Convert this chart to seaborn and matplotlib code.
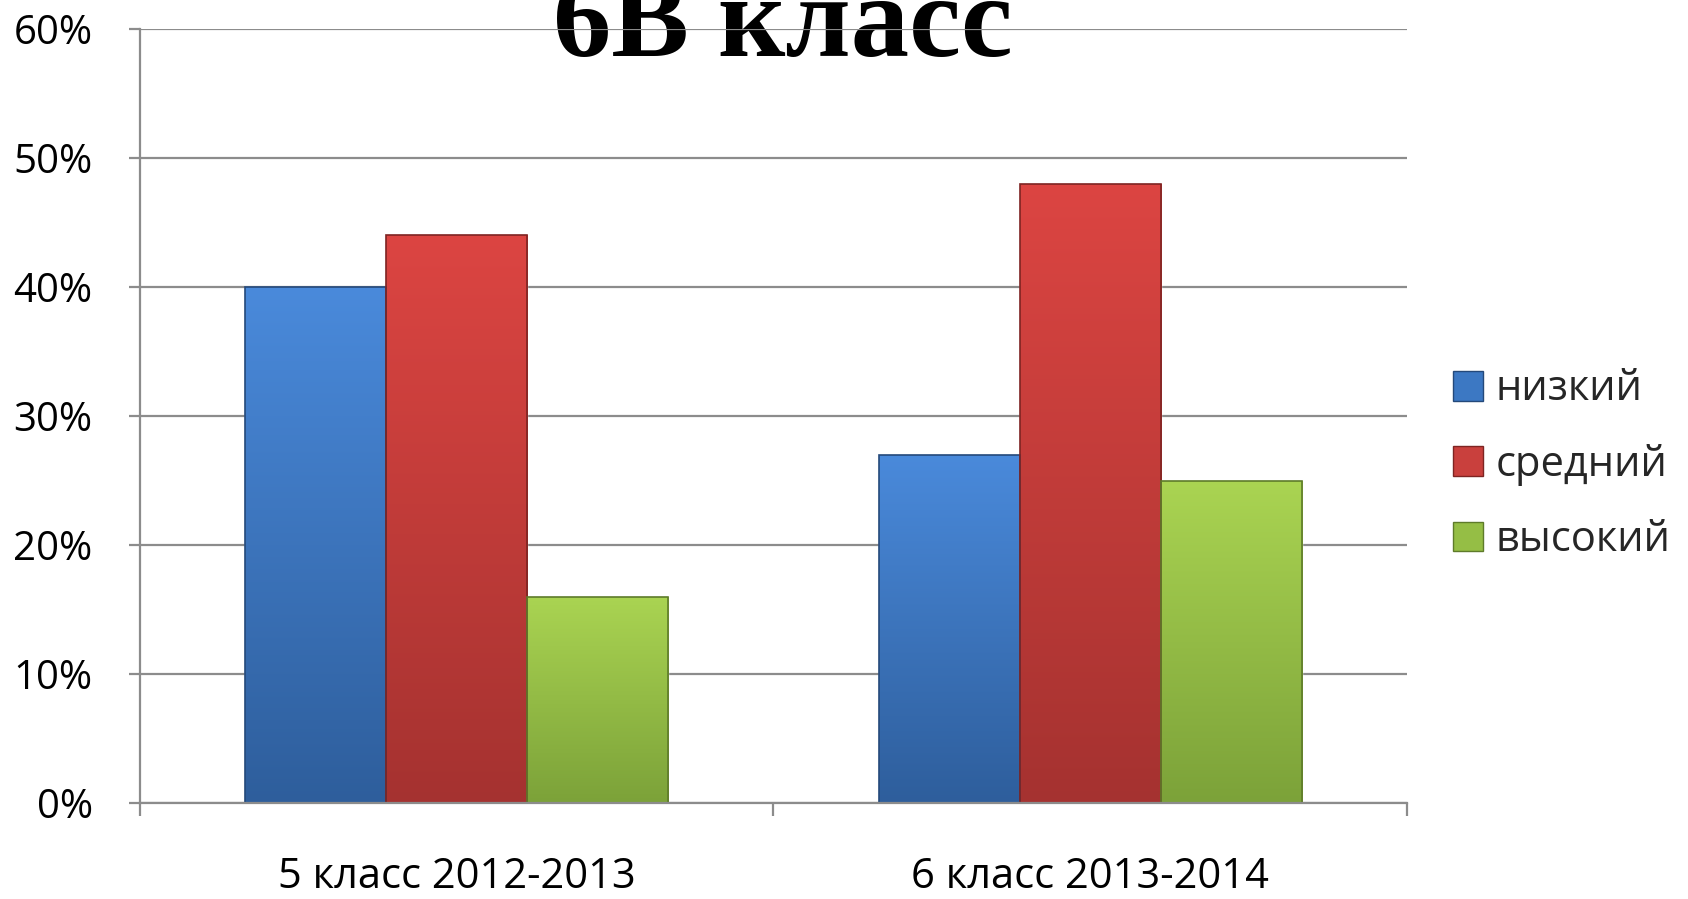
import numpy as np
import pandas as pd
import matplotlib
matplotlib.use("Agg")
import matplotlib.pyplot as plt
import seaborn as sns
from matplotlib.colors import LinearSegmentedColormap

# data
categories = ["5 класс 2012-2013", "6 класс 2013-2014"]
levels = ["низкий", "средний", "высокий"]
low = [40, 27]
mid = [44, 48]
high = [16, 25]
y_ticks = [0, 10, 20, 30, 40, 50, 60]

df = pd.DataFrame({
    "category": categories * 3,
    "level": [levels[0]] * 2 + [levels[1]] * 2 + [levels[2]] * 2,
    "value": low + mid + high,
})

palette = {"низкий": "#3C78C3", "средний": "#C9403D", "высокий": "#95BE45"}
grad = {
    "низкий": ("#4A8ADB", "#2E5E9C"),
    "средний": ("#DC4542", "#A53230"),
    "высокий": ("#AAD452", "#7CA239"),
}
edges = {"низкий": "#24497A", "средний": "#7E2422", "высокий": "#5E7B2A"}

sns.set_theme(style="white")
plt.rcParams["font.family"] = ["Open Sans", "DejaVu Sans"]

fig = plt.figure(figsize=(16.88, 8.99), dpi=100)
ax = fig.add_axes([0.0829, 0.1068, 0.8335 - 0.0829, 0.9677 - 0.1068])

sns.barplot(data=df, x="category", y="value", hue="level", hue_order=levels,
            order=categories, palette=palette, width=0.668, gap=0,
            saturation=1, ax=ax, legend=True, errorbar=None)

# vertical gradient + dark edge on each bar (bevel look of the original)
n_cat = len(categories)
for i, patch in enumerate(ax.patches[:n_cat * len(levels)]):
    lvl = levels[i // n_cat]
    top, bot = grad[lvl]
    cmap = LinearSegmentedColormap.from_list(lvl, [bot, top])
    x0, y0 = patch.get_x(), patch.get_y()
    w, h = patch.get_width(), patch.get_height()
    img = ax.imshow(np.linspace(0, 1, 256).reshape(-1, 1), cmap=cmap,
                    extent=[x0, x0 + w, y0, y0 + h], origin="lower",
                    aspect="auto", zorder=patch.get_zorder() + 0.1)
    img.set_clip_path(patch)
    edge = plt.Rectangle((x0, y0), w, h, fill=False, ec=edges[lvl], lw=1.2,
                         zorder=patch.get_zorder() + 0.2)
    ax.add_patch(edge)

ax.set_xlim(-0.5, n_cat - 0.5)
ax.set_ylim(0, 60)
ax.set_yticks(y_ticks)
ax.set_yticklabels([f"{t}%" for t in y_ticks])
ax.set_xlabel("")
ax.set_ylabel("")

ax.set_axisbelow(True)
ax.yaxis.grid(True, color="#8C8C8C", lw=1.6)
ax.xaxis.grid(False)
for s in ["top", "right"]:
    ax.spines[s].set_visible(False)
ax.spines["left"].set_color("#8C8C8C")
ax.spines["left"].set_linewidth(1.6)
ax.spines["bottom"].set_color("#8C8C8C")
ax.spines["bottom"].set_linewidth(1.6)

ax.tick_params(axis="y", which="major", length=8, width=1.6, color="#8C8C8C",
               direction="out", left=True, labelsize=29, pad=26,
               labelcolor="black")
ax.set_xticks(np.arange(-0.5, n_cat, 1.0), minor=True)
ax.tick_params(axis="x", which="minor", length=9, width=1.6,
               color="#8C8C8C", direction="out", bottom=True)
ax.tick_params(axis="x", which="major", length=0, labelsize=30, pad=38,
               labelcolor="black")

# legend on the right
handles, labels = ax.get_legend_handles_labels()
for h, lvl in zip(handles, labels):
    h.set_edgecolor(edges[lvl])
    h.set_linewidth(1.0)
ax.legend(handles, labels, loc="center left",
          bbox_to_anchor=(0.851, 0.483), bbox_transform=fig.transFigure,
          frameon=False, fontsize=30, handlelength=0.72, handleheight=0.72,
          handletextpad=0.3, labelspacing=0.8, borderaxespad=0)

# title, partly cut by the top of the picture, under the top gridline
ax.text(0.464, 1 - 56 / 899, "6В класс", transform=fig.transFigure,
        ha="center", va="baseline", fontsize=84, fontweight="bold",
        family=["Liberation Serif", "DejaVu Serif"], color="black",
        clip_on=False, zorder=0.4)

fig.savefig("out.png", dpi=100)
